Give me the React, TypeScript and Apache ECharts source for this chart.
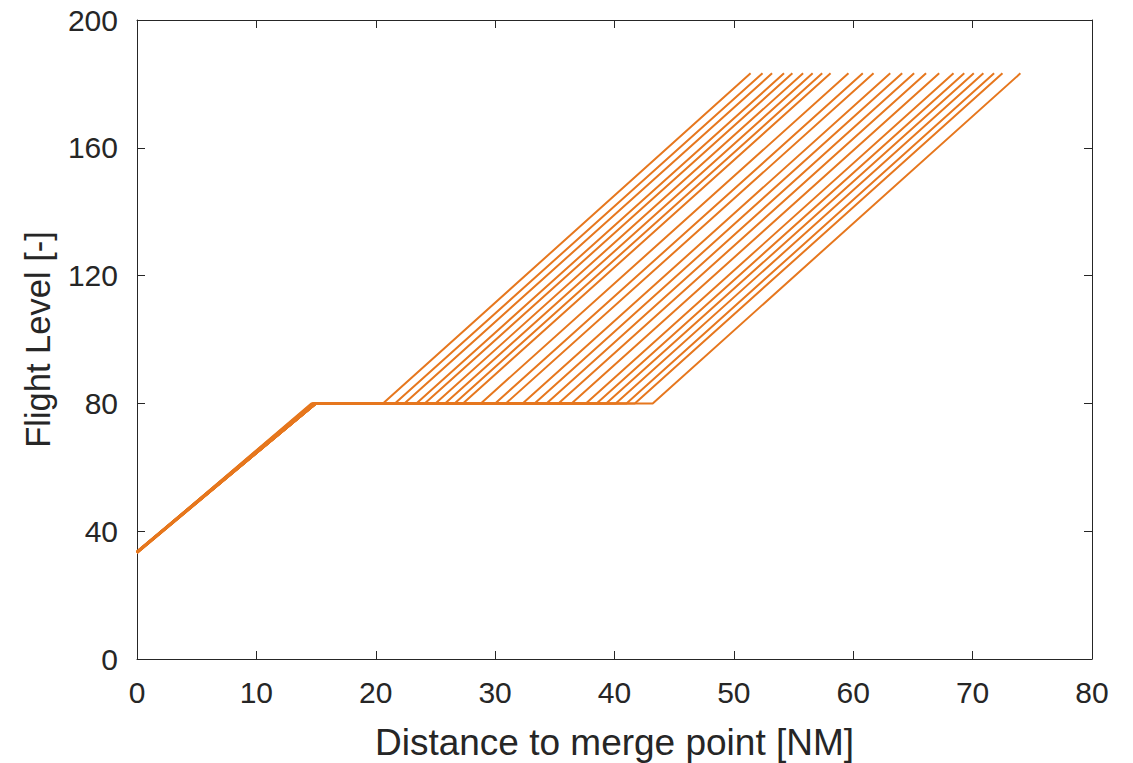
import React, { useEffect, useRef } from "react";
import * as echarts from "echarts";

// Each trajectory: start altitude at x=0, knee of first climb (reaching FL80),
// end of level segment at FL80, end of final climb at top flight level.
const startFL = [33.4, 33.6, 33.2, 33.5, 33.3, 33.7, 33.4, 33.5, 33.2, 33.6, 33.4, 33.3, 33.5, 33.6, 33.4, 33.2, 33.5, 33.3, 33.6, 33.4, 33.5, 33.3, 33.4, 33.6];
const kneeX = [14.6, 14.9, 15.0, 14.7, 15.0, 14.8, 15.0, 14.9, 15.0, 14.7, 15.0, 14.9, 15.0, 14.8, 15.0, 14.9, 15.0, 14.7, 15.0, 14.9, 15.0, 14.8, 15.0, 14.9];
const levelEndX = [20.6, 21.6, 22.4, 23.4, 24.1, 25.0, 25.8, 26.6, 27.3, 28.8, 30.0, 30.9, 32.3, 33.3, 34.3, 35.3, 36.4, 37.6, 38.5, 39.3, 40.1, 41.0, 41.7, 43.2];
const climbEndX = [51.4, 52.4, 53.2, 54.2, 54.9, 55.8, 56.6, 57.4, 58.1, 59.6, 60.8, 61.7, 63.1, 64.1, 65.1, 66.1, 67.2, 68.4, 69.3, 70.1, 70.9, 71.8, 72.5, 74.0];
const levelFL = 80;
const topFL = 183.3;

const xTicks = { min: 0, max: 80, interval: 10 };
const yTicks = { min: 0, max: 200, interval: 40 };

const TEXT = "#262626";
const LINE = "#E6771E";
const FONT = "'Liberation Sans', Arial, Helvetica, sans-serif";

export default function App() {
  const ref = useRef<HTMLDivElement>(null);
  useEffect(() => {
    if (!ref.current) return;
    const chart = echarts.init(ref.current, undefined, { renderer: "svg" });
    const series = startFL.map((s, i) => ({
      type: "line",
      xAxisIndex: 0,
      yAxisIndex: 0,
      showSymbol: false,
      symbol: "none",
      lineStyle: { color: LINE, width: 2 },
      data: [
        [0, s],
        [kneeX[i], levelFL],
        [levelEndX[i], levelFL],
        [climbEndX[i], topFL],
      ],
    }));
    const axisCommonX = {
      type: "value",
      min: xTicks.min,
      max: xTicks.max,
      interval: xTicks.interval,
      splitLine: { show: false },
      axisLine: { show: true, onZero: false, lineStyle: { color: TEXT, width: 1 } },
      axisTick: { show: true, inside: true, length: 8, lineStyle: { color: TEXT } },
    };
    const axisCommonY = {
      type: "value",
      min: yTicks.min,
      max: yTicks.max,
      interval: yTicks.interval,
      splitLine: { show: false },
      axisLine: { show: true, onZero: false, lineStyle: { color: TEXT, width: 1 } },
      axisTick: { show: true, inside: true, length: 8, lineStyle: { color: TEXT } },
    };
    chart.setOption({
      animation: false,
      backgroundColor: "#ffffff",
      grid: {
        left: 137,
        right: 41,
        top: 20,
        bottom: 104,
        containLabel: false,
        outerBoundsMode: "none",
      },
      xAxis: [
        {
          ...axisCommonX,
          position: "bottom",
          name: "Distance to merge point [NM]",
          nameLocation: "middle",
          nameGap: 65,
          nameTextStyle: { color: TEXT, fontSize: 37, fontFamily: FONT },
          axisLabel: { color: TEXT, fontSize: 30, fontFamily: FONT, margin: 18 },
        },
        {
          ...axisCommonX,
          position: "top",
          axisLabel: { show: false },
        },
      ],
      yAxis: [
        {
          ...axisCommonY,
          position: "left",
          name: "Flight Level [-]",
          nameLocation: "middle",
          nameGap: 82,
          nameTextStyle: { color: TEXT, fontSize: 34.5, fontFamily: FONT },
          axisLabel: { color: TEXT, fontSize: 30, fontFamily: FONT, margin: 19 },
        },
        {
          ...axisCommonY,
          position: "right",
          axisLabel: { show: false },
        },
      ],
      series,
    });
    return () => chart.dispose();
  }, []);
  return (
    <div
      ref={ref}
      style={{ position: "fixed", left: 0, top: 0, width: 1133, height: 763, background: "#fff" }}
    />
  );
}
